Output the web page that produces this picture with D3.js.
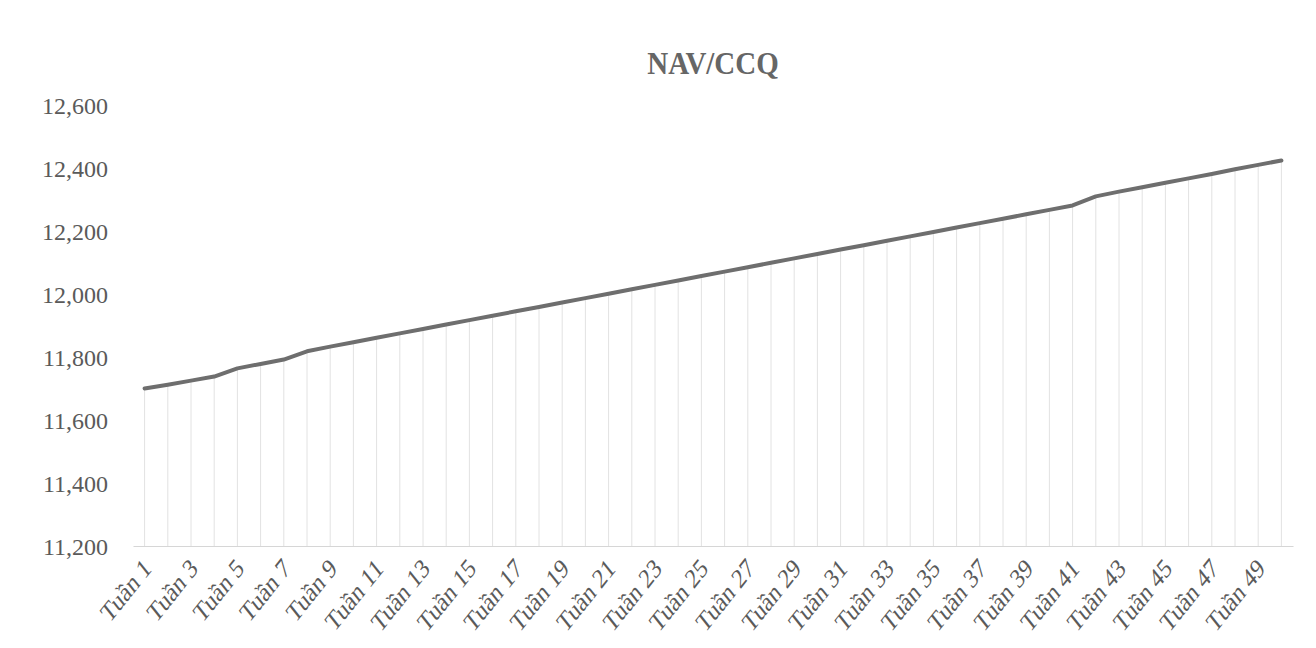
<!DOCTYPE html>
<html>
<head>
<meta charset="utf-8">
<script src="https://cdn.jsdelivr.net/npm/d3@7"></script>
<style>
  body { margin: 0; background: #fff; }
  svg { display: block; }
  text { font-family: "Liberation Serif", "Times New Roman", serif; fill: #5a5a5a; }
</style>
</head>
<body>
<div id="chart"></div>
<script>
// NAV/CCQ by week
const weeks = ["Tuần 1","Tuần 2","Tuần 3","Tuần 4","Tuần 5","Tuần 6","Tuần 7","Tuần 8","Tuần 9","Tuần 10",
  "Tuần 11","Tuần 12","Tuần 13","Tuần 14","Tuần 15","Tuần 16","Tuần 17","Tuần 18","Tuần 19","Tuần 20",
  "Tuần 21","Tuần 22","Tuần 23","Tuần 24","Tuần 25","Tuần 26","Tuần 27","Tuần 28","Tuần 29","Tuần 30",
  "Tuần 31","Tuần 32","Tuần 33","Tuần 34","Tuần 35","Tuần 36","Tuần 37","Tuần 38","Tuần 39","Tuần 40",
  "Tuần 41","Tuần 42","Tuần 43","Tuần 44","Tuần 45","Tuần 46","Tuần 47","Tuần 48","Tuần 49","Tuần 50"];

const nav = [11700, 11712, 11725, 11738, 11764, 11778, 11792, 11818, 11833, 11847,
  11861, 11875, 11889, 11903, 11917, 11931, 11945, 11959, 11973, 11987,
  12001, 12015, 12029, 12043, 12057, 12071, 12085, 12099, 12113, 12127,
  12141, 12155, 12169, 12183, 12197, 12211, 12225, 12239, 12253, 12267,
  12281, 12310, 12325, 12339, 12353, 12367, 12381, 12396, 12410, 12424];

const yTicks = [11200, 11400, 11600, 11800, 12000, 12200, 12400, 12600];
const title = "NAV/CCQ";

const W = 1316, H = 648;
const MARGIN = { TOP: 105, BOTTOM: 102, LEFT: 133, RIGHT: 23 };

const svg = d3.select("#chart").append("svg")
  .attr("width", W).attr("height", H);

const x = d3.scaleBand()
  .domain(weeks)
  .range([MARGIN.LEFT, W - MARGIN.RIGHT]);

const y = d3.scaleLinear()
  .domain([11200, 12600])
  .range([H - MARGIN.BOTTOM, MARGIN.TOP]);

const cx = d => x(d) + x.bandwidth() / 2;

// title (scan is a bit taller than wide)
svg.append("text")
  .attr("transform", "translate(713,74) scale(1,1.12)")
  .attr("text-anchor", "middle")
  .style("font-size", "29px")
  .style("font-weight", "bold")
  .style("fill", "#666")
  .text(title);

// y axis (labels only)
const yAxis = svg.append("g")
  .attr("transform", `translate(${MARGIN.LEFT - 25},0)`)
  .call(d3.axisLeft(y).tickValues(yTicks).tickSize(0).tickPadding(0).tickFormat(d3.format(",")));
yAxis.select(".domain").remove();
yAxis.selectAll("text").style("font-size", "24px").attr("dy", "0.35em");

// drop lines
svg.append("g").selectAll("line")
  .data(nav)
  .join("line")
  .attr("x1", (d, i) => cx(weeks[i]))
  .attr("x2", (d, i) => cx(weeks[i]))
  .attr("y1", d => y(d))
  .attr("y2", y(11200))
  .attr("stroke", "#e2e2e2")
  .attr("stroke-width", 1);

// x axis
const xAxis = svg.append("g")
  .attr("transform", `translate(0,${y(11200)})`)
  .call(d3.axisBottom(x).tickSize(0).tickPadding(0)
    .tickValues(weeks.filter((d, i) => i % 2 === 0)));
xAxis.select(".domain").attr("stroke", "#d6d6d6").attr("stroke-width", 1.2);
xAxis.selectAll("text")
  .style("font-size", "22px")
  .attr("text-anchor", "end")
  .attr("dy", null)
  .attr("transform", "translate(8,24) scale(1,1.25) rotate(-45)");

// the line
const line = d3.line()
  .x((d, i) => cx(weeks[i]))
  .y(d => y(d));

svg.append("path")
  .datum(nav)
  .attr("d", line)
  .attr("fill", "none")
  .attr("stroke", "#6e6e6e")
  .attr("stroke-width", 4)
  .attr("stroke-linejoin", "round")
  .attr("stroke-linecap", "round");
</script>
</body>
</html>
